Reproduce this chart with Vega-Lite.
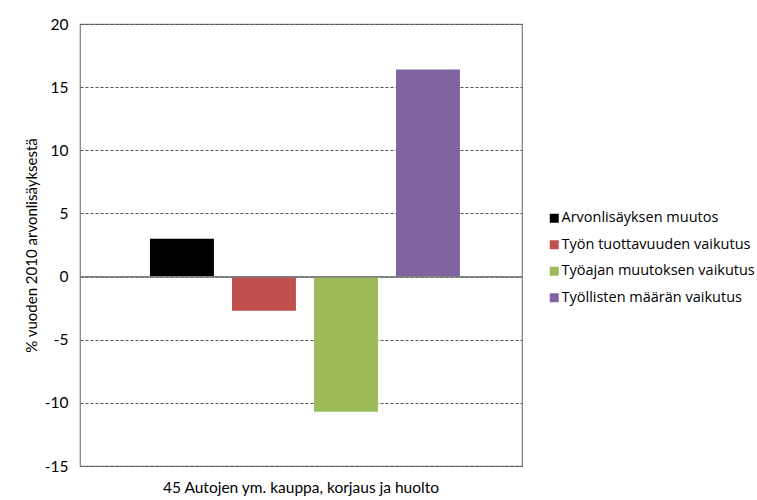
{
  "$schema": "https://vega.github.io/schema/vega-lite/v6.json",
  "width": 442,
  "height": 442,
  "autosize": {"type": "none"},
  "padding": {"left": 80, "top": 24, "right": 235, "bottom": 34},
  "background": "white",
  "config": {
    "font": "Lato",
    "view": {"stroke": "#7f7f7f", "strokeWidth": 1.2},
    "axis": {"labelFont": "Lato", "titleFont": "Lato", "labelColor": "#000000", "titleColor": "#000000"}
  },
  "data": {
    "values": [
      {"toimiala": "45 Autojen ym. kauppa, korjaus ja huolto", "tekija": "Arvonlisäyksen muutos", "arvo": 3.0},
      {"toimiala": "45 Autojen ym. kauppa, korjaus ja huolto", "tekija": "Työn tuottavuuden vaikutus", "arvo": -2.7},
      {"toimiala": "45 Autojen ym. kauppa, korjaus ja huolto", "tekija": "Työajan muutoksen vaikutus", "arvo": -10.7},
      {"toimiala": "45 Autojen ym. kauppa, korjaus ja huolto", "tekija": "Työllisten määrän vaikutus", "arvo": 16.4}
    ]
  },
  "layer": [
    {
      "mark": {"type": "bar"},
      "encoding": {
        "x": {
          "field": "toimiala",
          "type": "nominal",
          "scale": {"paddingInner": 0, "paddingOuter": 0},
          "axis": {
            "title": null,
            "labelAngle": 0,
            "labelLimit": 0,
            "domain": false,
            "ticks": false,
            "grid": false,
            "labelFontSize": 15.5,
            "labelPadding": 14
          }
        },
        "xOffset": {
          "field": "tekija",
          "type": "nominal",
          "sort": null,
          "scale": {"paddingInner": 0.22, "paddingOuter": 0.805, "align": 0.53}
        },
        "y": {
          "field": "arvo",
          "type": "quantitative",
          "scale": {"domain": [-15, 20], "nice": false, "zero": false},
          "axis": {
            "title": "% vuoden 2010 arvonlisäyksestä",
            "titleFontSize": 15,
            "titleFontWeight": "normal",
            "titleColor": "#000000",
            "titlePadding": 5,
            "values": [-15, -10, -5, 0, 5, 10, 15, 20],
            "labelExpr": "datum.value + ''",
            "labelFontSize": 15.5,
            "labelPadding": 12,
            "domain": false,
            "ticks": false,
            "grid": true,
            "gridColor": "#555555",
            "gridDash": [3, 2],
            "gridWidth": 1
          }
        },
        "color": {
          "field": "tekija",
          "type": "nominal",
          "sort": null,
          "scale": {
            "domain": ["Arvonlisäyksen muutos", "Työn tuottavuuden vaikutus", "Työajan muutoksen vaikutus", "Työllisten määrän vaikutus"],
            "range": ["#000000", "#C0504D", "#9BBB59", "#8064A2"]
          },
          "legend": {
            "title": null,
            "orient": "none",
            "legendX": 467,
            "legendY": 187,
            "symbolType": "square",
            "symbolSize": 81,
            "symbolStrokeWidth": 0,
            "labelFont": "Open Sans",
            "labelFontSize": 14.5,
            "labelLimit": 0,
            "labelColor": "#000000",
            "rowPadding": 11.5,
            "labelOffset": 0
          }
        }
      }
    },
    {
      "mark": {"type": "rule", "color": "#7f7f7f", "strokeWidth": 1.2},
      "encoding": {"y": {"datum": 0, "type": "quantitative"}}
    }
  ]
}
